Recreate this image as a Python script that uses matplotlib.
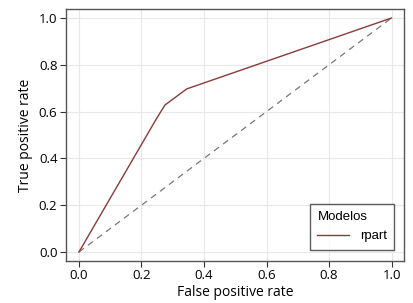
import matplotlib
matplotlib.use("Agg")
import matplotlib.pyplot as plt

# ROC curve points
fpr = [0.0, 0.245, 0.275, 0.345, 1.0]
tpr = [0.0, 0.563, 0.628, 0.697, 1.0]
diag = [0.0, 1.0]
ticks = [0.0, 0.2, 0.4, 0.6, 0.8, 1.0]
tick_labels = ["0.0", "0.2", "0.4", "0.6", "0.8", "1.0"]

plt.rcParams['font.family'] = ['Open Sans', 'DejaVu Sans']

fig = plt.figure(figsize=(4.14, 3.03), dpi=100)
ax = fig.add_axes([0.159, 0.139, 0.817, 0.831])

ax.grid(True, color="#e8e8e8", linewidth=0.8)
ax.set_axisbelow(True)
ax.plot(diag, diag, linestyle=(0, (5, 4)), color="#777777", linewidth=0.9)
ax.plot(fpr, tpr, color="#8b3a3a", linewidth=1.0, label="rpart")

ax.set_xlim(-0.042, 1.04)
ax.set_ylim(-0.038, 1.038)
ax.set_xticks(ticks)
ax.set_xticklabels(tick_labels)
ax.set_yticks(ticks)
ax.set_yticklabels(tick_labels)
ax.tick_params(colors="#333333", labelcolor="black", labelsize=9.5, length=4, width=0.8, pad=2)
for s in ax.spines.values():
    s.set_color("#555555")
    s.set_linewidth(1.0)

ax.set_xlabel("False positive rate", fontsize=10, labelpad=2)
ax.set_ylabel("True positive rate", fontsize=10, labelpad=4)

leg = ax.legend(title="Modelos", loc="lower right", bbox_to_anchor=(0.97, 0.045),
                frameon=True, fancybox=False,
                handlelength=2.4, borderpad=0.55, borderaxespad=0,
                prop={'family': 'Liberation Sans', 'size': 9.5})
leg.get_title().set_family('Liberation Sans')
leg.get_title().set_fontsize(9.5)
leg.get_frame().set_edgecolor("#333333")
leg.get_frame().set_linewidth(1.0)
leg._legend_box.align = "left"

fig.savefig("out.png", dpi=100)
